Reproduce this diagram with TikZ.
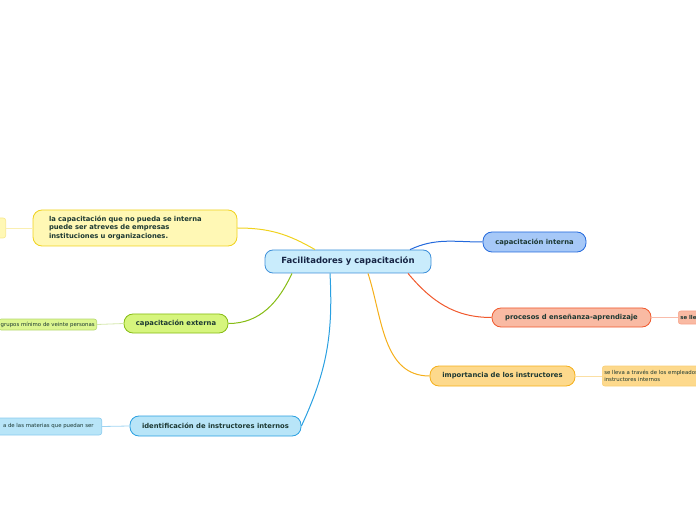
\documentclass[tikz,border=0pt]{standalone}
\usepackage{fontspec}
\setmainfont{DejaVu Sans}
\usetikzlibrary{positioning}
\definecolor{centralfill}{RGB}{201,236,252}
\definecolor{centralline}{RGB}{61,143,217}
\definecolor{centraltext}{RGB}{22,36,68}
\definecolor{darktext}{RGB}{28,56,50}
\definecolor{interna}{RGB}{35,105,220}
\definecolor{internafill}{RGB}{166,200,247}
\definecolor{procesos}{RGB}{240,88,44}
\definecolor{procesosfill}{RGB}{249,186,163}
\definecolor{importa}{RGB}{245,175,26}
\definecolor{importafill}{RGB}{253,217,140}
\definecolor{amarillo}{RGB}{240,210,30}
\definecolor{amarillofill}{RGB}{255,248,181}
\definecolor{externa}{RGB}{134,188,20}
\definecolor{externafill}{RGB}{214,245,125}
\definecolor{ident}{RGB}{42,160,225}
\definecolor{identfill}{RGB}{184,229,248}
\tikzset{
  mcentral/.style = {rounded corners=8pt, draw=centralline, fill=centralfill,
                     line width=0.8pt, text=centraltext,
                     font=\fontsize{8.5}{10}\selectfont\bfseries,
                     minimum width=166pt, minimum height=23pt, inner sep=2pt},
  mtopic/.style   = {rounded corners=9pt, line width=0.8pt, text=darktext,
                     font=\fontsize{6.8}{8.6}\selectfont\bfseries,
                     minimum height=20pt, inner sep=2pt},
  tinterna/.style = {mtopic, draw=interna, fill=internafill},
  tprocesos/.style= {mtopic, draw=procesos, fill=procesosfill},
  timporta/.style = {mtopic, draw=importa, fill=importafill},
  tamarillo/.style= {mtopic, draw=amarillo, fill=amarillofill},
  texterna/.style = {mtopic, draw=externa, fill=externafill},
  tident/.style   = {mtopic, draw=ident, fill=identfill},
  % leaves: small plain text, lighter outline
  mleaf/.style    = {rounded corners=2.5pt, line width=0.6pt, text=darktext,
                     font=\fontsize{5.4}{6.4}\selectfont, inner sep=2pt},
  lprocesos/.style= {mleaf, draw=procesos!55, fill=procesosfill},
  limporta/.style = {mleaf, draw=importa!60, fill=importafill},
  lamarillo/.style= {mleaf, draw=amarillo!50, fill=amarillofill},
  lexterna/.style = {mleaf, draw=externa!60, fill=externafill!85},
  lident/.style   = {mleaf, draw=ident!55, fill=identfill},
  link/.style     = {line width=1pt},
  leaflink/.style = {line width=0.8pt},
}

\begin{document}
\begin{tikzpicture}[x=1pt, y=1pt]
  \useasboundingbox (0,0) rectangle (696,520);
  \clip (0,0) rectangle (696,520);

  \node[mcentral] (c) at (348,258.5) {Facilitadores y capacitación};

  \node[tinterna, minimum width=103pt] (ci) at (534.5,278) {capacitación interna};
  \node[tprocesos, minimum width=159pt, minimum height=19pt] (pe) at (571.5,202.5)
       {procesos d enseñanza-aprendizaje};
  \node[timporta, minimum width=145pt] (im) at (502.5,144) {importancia de los instructores};
  \node[tamarillo, minimum width=204pt, minimum height=36pt, text width=172pt,
        align=left] (am) at (135,292)
       {la capacitación que no pueda se interna\\puede ser atreves de empresas\\instituciones u organizaciones.};
  \node[texterna, minimum width=104pt, minimum height=19pt] (cx) at (176,196.5) {capacitación externa};
  \node[tident, minimum width=171pt] (ii) at (215.5,94) {identificación de instructores internos};

  \node[lamarillo, anchor=east, minimum width=40pt, minimum height=20pt] (l1) at (6,292) {};
  \node[lexterna, anchor=east, minimum height=11pt] (l2) at (97,195.5) {grupos mínimo de veinte personas};
  \node[lident, anchor=east, minimum height=17pt, inner xsep=8pt] (l3) at (102,93.5)
       {a de las materias que puedan ser};
  \node[lprocesos, anchor=west, minimum height=13pt, font=\fontsize{5.4}{6.4}\selectfont\bfseries]
       (l4) at (678,202.5) {se lleva a través};
  \node[limporta, anchor=west, minimum height=20pt, align=left] (l5) at (602,144)
       {se lleva a través de los empleados\\instructores internos};

  \draw[link, draw=interna] ([xshift=62pt]c.north) to[out=25,in=180] (ci.west);
  \draw[link, draw=procesos] ([xshift=60pt]c.south) to[out=-50,in=180] (pe.west);
  \draw[link, draw=importa] ([xshift=20pt]c.south) to[out=-72,in=180] (im.west);
  \draw[link, draw=ident] ([xshift=-18pt]c.south) to[out=-87,in=65] (ii.east);
  \draw[link, draw=externa] ([xshift=-56pt]c.south) to[out=-115,in=0] (cx.east);
  \draw[link, draw=amarillo] ([xshift=-33pt]c.north) to[out=150,in=0] (am.east);

  \draw[leaflink, draw=amarillo!35] (am.west) -- (l1.east);
  \draw[leaflink, draw=externa!35] (cx.west) -- (l2.east);
  \draw[leaflink, draw=ident!45] (ii.west) -- (l3.east);
  \draw[leaflink, draw=procesos!40] (pe.east) -- (l4.west);
  \draw[leaflink, draw=importa!40] (im.east) -- (l5.west);
\end{tikzpicture}
\end{document}
